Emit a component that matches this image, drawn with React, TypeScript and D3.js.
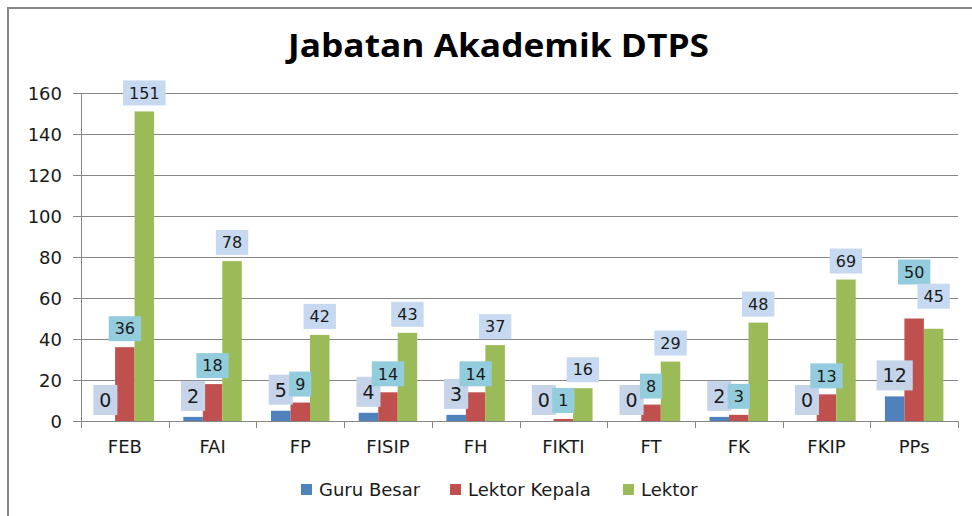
import React, { useRef, useEffect } from 'react';
import * as d3 from 'd3';

// Data
const categories = ['FEB', 'FAI', 'FP', 'FISIP', 'FH', 'FIKTI', 'FT', 'FK', 'FKIP', 'PPs'];
const seriesNames = ['Guru Besar', 'Lektor Kepala', 'Lektor'];
const guruBesar = [0, 2, 5, 4, 3, 0, 0, 2, 0, 12];
const lektorKepala = [36, 18, 9, 14, 14, 1, 8, 3, 13, 50];
const lektor = [151, 78, 42, 43, 37, 16, 29, 48, 69, 45];
const yTicks = [0, 20, 40, 60, 80, 100, 120, 140, 160];

const seriesValues = [guruBesar, lektorKepala, lektor];
const barColors = ['#4f81bd', '#c0504d', '#9bbb59'];
const labelFills = ['#c5d4e9', '#93cddd', '#c6d9f1'];

// labels that were dragged upward by hand in the original
const labelNudge: Record<string, number> = {
  'PPs|Lektor Kepala': -28,
  'PPs|Lektor': -14,
};

const W = 972;
const H = 516;
const FONT = '"DejaVu Sans", sans-serif';

const App: React.FC = () => {
  const svgRef = useRef<SVGSVGElement>(null);

  useEffect(() => {
    if (!svgRef.current) return;
    const svg = d3.select(svgRef.current);
    svg.selectAll('*').remove();

    const margin = { left: 81, right: 14, top: 93, bottom: 95 };
    const plotBottom = H - margin.bottom; // 421

    // chart frame
    svg.append('rect')
      .attr('x', 8).attr('y', 8)
      .attr('width', W + 20).attr('height', H + 20)
      .attr('fill', '#fff')
      .attr('stroke', '#878787')
      .attr('stroke-width', 2);

    // title
    svg.append('text')
      .attr('x', 288).attr('y', 57)
      .attr('font-family', '"Open Sans", sans-serif')
      .attr('font-weight', 700)
      .attr('font-size', 32)
      .attr('fill', '#000')
      .attr('textLength', 421)
      .attr('lengthAdjust', 'spacingAndGlyphs')
      .text('Jabatan Akademik DTPS');

    const x = d3.scaleBand<string>()
      .domain(categories)
      .range([margin.left, W - margin.right])
      .padding(0);

    const xInner = d3.scaleBand<string>()
      .domain(seriesNames)
      .range([0, x.bandwidth()])
      .paddingInner(0)
      .paddingOuter(0.75);

    const y = d3.scaleLinear()
      .domain([0, 160])
      .range([plotBottom, margin.top]);

    const g = svg.append('g');

    // gridlines + y ticks
    g.append('g')
      .selectAll('line')
      .data(yTicks)
      .join('line')
      .attr('x1', margin.left - 8)
      .attr('x2', W - margin.right)
      .attr('y1', d => Math.round(y(d)) + 0.5)
      .attr('y2', d => Math.round(y(d)) + 0.5)
      .attr('stroke', '#868686')
      .attr('stroke-width', 1);

    g.append('g')
      .selectAll('text')
      .data(yTicks)
      .join('text')
      .attr('x', 62)
      .attr('y', d => y(d) + 6.5)
      .attr('text-anchor', 'end')
      .attr('font-family', FONT)
      .attr('font-size', 18)
      .attr('fill', '#1a1a1a')
      .text(d => d);

    // y axis line
    g.append('line')
      .attr('x1', margin.left + 0.5).attr('x2', margin.left + 0.5)
      .attr('y1', margin.top).attr('y2', plotBottom)
      .attr('stroke', '#868686');

    // x tick marks at category boundaries
    const boundaries = categories.map(c => x(c) as number).concat([W - margin.right]);
    g.append('g')
      .selectAll('line')
      .data(boundaries)
      .join('line')
      .attr('x1', d => Math.round(d) + 0.5)
      .attr('x2', d => Math.round(d) + 0.5)
      .attr('y1', plotBottom)
      .attr('y2', plotBottom + 7)
      .attr('stroke', '#868686');

    // category labels
    g.append('g')
      .selectAll('text')
      .data(categories)
      .join('text')
      .attr('x', d => (x(d) as number) + x.bandwidth() / 2)
      .attr('y', plotBottom + 32)
      .attr('text-anchor', 'middle')
      .attr('font-family', FONT)
      .attr('font-size', 18)
      .attr('fill', '#1a1a1a')
      .text(d => d);

    // bars
    seriesNames.forEach((s, si) => {
      g.append('g')
        .selectAll('rect')
        .data(categories)
        .join('rect')
        .attr('x', c => (x(c) as number) + (xInner(s) as number))
        .attr('width', xInner.bandwidth())
        .attr('y', (c, i) => y(seriesValues[si][i]))
        .attr('height', (c, i) => plotBottom - y(seriesValues[si][i]))
        .attr('fill', barColors[si]);
    });

    // data labels (boxes), drawn after all bars so they overlap like in Excel
    seriesNames.forEach((s, si) => {
      const big = si === 0;
      const fs = big ? 19 : 16;
      const boxH = big ? 30 : 25;
      categories.forEach((c, i) => {
        const v = seriesValues[si][i];
        const cx = (x(c) as number) + (xInner(s) as number) + xInner.bandwidth() / 2;
        const nudge = labelNudge[`${c}|${s}`] || 0;
        const bottom = y(v) - 6 + nudge;
        const lg = g.append('g');
        const rect = lg.append('rect')
          .attr('fill', labelFills[si]);
        const t = lg.append('text')
          .attr('x', cx)
          .attr('y', bottom - boxH / 2 + fs * 0.36)
          .attr('text-anchor', 'middle')
          .attr('font-family', FONT)
          .attr('font-size', fs)
          .attr('fill', '#1a1a1a')
          .text(v);
        const tw = (t.node() as SVGTextElement).getComputedTextLength();
        const bw = tw + 12;
        rect
          .attr('x', cx - bw / 2)
          .attr('y', bottom - boxH)
          .attr('width', bw)
          .attr('height', boxH);
      });
    });

    // legend
    const legendX = [301, 450, 623];
    const legend = svg.append('g');
    seriesNames.forEach((s, si) => {
      legend.append('rect')
        .attr('x', legendX[si])
        .attr('y', 484)
        .attr('width', 11)
        .attr('height', 11)
        .attr('fill', barColors[si]);
      legend.append('text')
        .attr('x', legendX[si] + 18)
        .attr('y', 496)
        .attr('font-family', FONT)
        .attr('font-size', 18)
        .attr('fill', '#1a1a1a')
        .text(s);
    });
  }, []);

  return (
    <div style={{ position: 'absolute', left: 0, top: 0, width: W, height: H }}>
      <svg ref={svgRef} width={W} height={H} style={{ display: 'block', background: '#fff' }} />
    </div>
  );
};

export default App;
